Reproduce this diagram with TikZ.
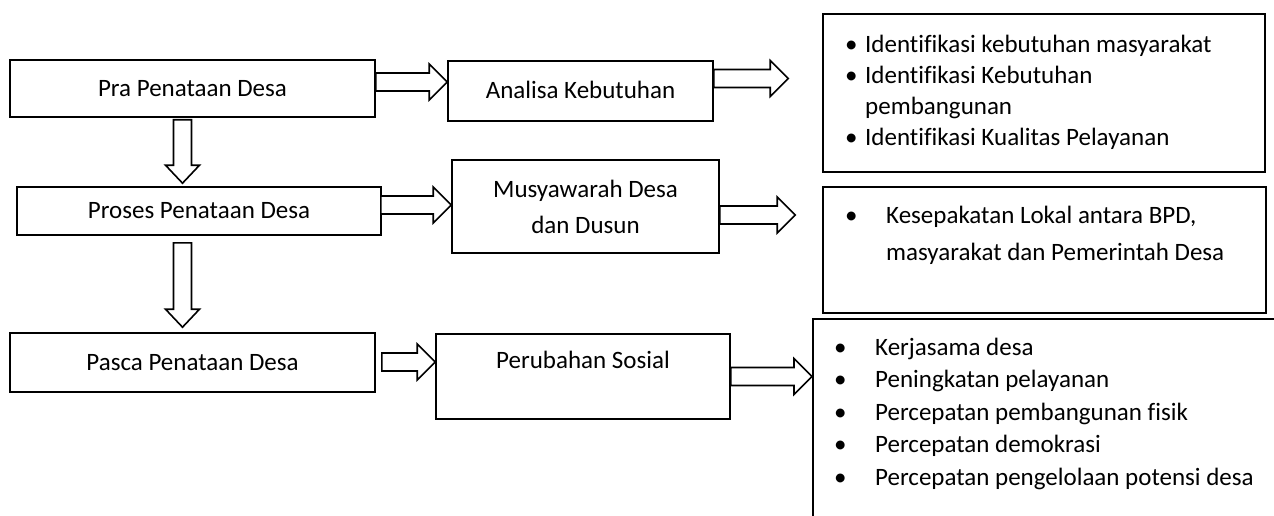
\documentclass[tikz,border=0pt]{standalone}
\usepackage{fontspec}
\setmainfont{Carlito}[Ligatures=NoCommon]
\usetikzlibrary{calc,positioning}

\newcommand{\itm}[1]{\makebox[#1][l]{\textbullet}}

\begin{document}
\begin{tikzpicture}[x=1pt, y=-1pt,
  box/.style={draw, line width=1.6pt, inner sep=0pt, font=\fontsize{25}{36}\selectfont, align=center},
  listtext/.style={inner sep=0pt, align=left},
  blockarrow/.style={draw, fill=white, line width=1.6pt,
    to path={let \p1=(\tikztostart), \p2=(\tikztotarget) in
      (\x1,\y1+9pt) -- (\x2-18pt,\y1+9pt) -- (\x2-18pt,\y1+18pt) -- (\x2,\y1)
      -- (\x2-18pt,\y1-18pt) -- (\x2-18pt,\y1-9pt) -- (\x1,\y1-9pt) -- cycle}},
  blockdown/.style={draw, fill=white, line width=1.6pt,
    to path={let \p1=(\tikztostart), \p2=(\tikztotarget) in
      (\x1-9pt,\y1) -- (\x1-9pt,\y2+18pt) -- (\x1-17pt,\y2+18pt) -- (\x1,\y2)
      -- (\x1+17pt,\y2+18pt) -- (\x1+9pt,\y2+18pt) -- (\x1+9pt,\y1) -- cycle}}]
\useasboundingbox (0,0) rectangle (1274,516);

% tahapan penataan
\node[box, minimum width=365, minimum height=57] (pra) at (192.5,88.5) {Pra Penataan Desa};
\node[box, minimum width=364, minimum height=48] (proses) at (199,211) {Proses Penataan Desa};
\node[box, minimum width=365, minimum height=59] (pasca) at (192.5,362.5) {Pasca Penataan Desa};

% kegiatan
\node[box, minimum width=265, minimum height=60] (analisa) at (580.5,91) {\raisebox{2pt}{Analisa Kebutuhan}};
\node[box, minimum width=267, minimum height=93] (musyawarah) at (585.5,206.5) {Musyawarah Desa\\dan Dusun};
\node[box, minimum width=294, minimum height=85] (perubahan) at (583,376.5) {\raisebox{8.5pt}[0pt][0pt]{Perubahan Sosial}};

% hasil
\node[box, minimum width=442, minimum height=158] (identifikasi) at (1044,93) {};
\node[box, minimum width=443, minimum height=126] (kesepakatan) at (1044.5,250) {};
\begin{scope}
\clip (0,0) rectangle (1274,516);
\node[box, anchor=north west, minimum width=480, minimum height=220] (hasil) at (812,318) {};
\end{scope}

% base = baris terakhir
\node[listtext, font=\fontsize{25}{31.3}\selectfont, anchor=base west] (daftar1) at (845,146)
  {\itm{20pt}Identifikasi kebutuhan masyarakat\\
   \itm{20pt}Identifikasi Kebutuhan\\
   \hspace*{20pt}pembangunan\\
   \itm{20pt}Identifikasi Kualitas Pelayanan};
\node[listtext, font=\fontsize{25}{37}\selectfont, anchor=base west] (daftar2) at (845,260)
  {\itm{41pt}Kesepakatan Lokal antara BPD,\\
   \hspace*{41pt}masyarakat dan Pemerintah Desa};
\node[listtext, font=\fontsize{25}{32.5}\selectfont, anchor=base west] (daftar3) at (834,485)
  {\itm{41pt}Kerjasama desa\\
   \itm{41pt}Peningkatan pelayanan\\
   \itm{41pt}Percepatan pembangunan fisik\\
   \itm{41pt}Percepatan demokrasi\\
   \itm{41pt}Percepatan pengelolaan potensi desa};

% panah
\draw[blockdown] ($(pra.south)+(-10,2)$) to ($(proses.north)+(0,-3)$);
\draw[blockdown] ($(proses.south)+(-16.5,7)$) to ($(pasca.north)+(0,-5)$);
\draw[blockarrow] ($(pra.east)+(0,-6.5)$) to (analisa.west);
\draw[blockarrow] ($(analisa.east)+(0,-12.5)$) to ($(identifikasi.west)+(-34,0)$);
\draw[blockarrow] ($(proses.east)+(-1,-6)$) to (musyawarah.west);
\draw[blockarrow] ($(musyawarah.east)+(0,8.5)$) to ($(kesepakatan.west)+(-27,0)$);
\draw[blockarrow] ($(pasca.east)+(6,-0.5)$) to (perubahan.west);
\draw[blockarrow] (perubahan.east) to (hasil.west);
\end{tikzpicture}
\end{document}
